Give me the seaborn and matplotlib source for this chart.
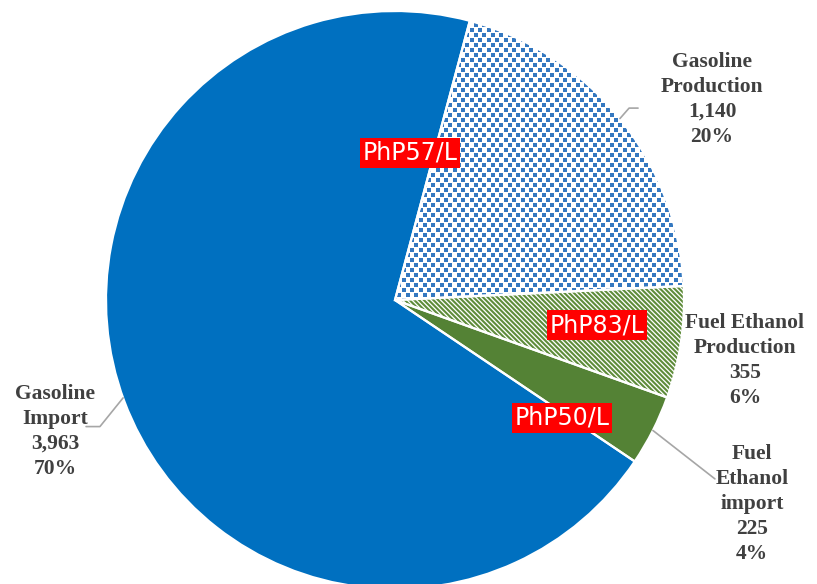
import matplotlib
matplotlib.use("Agg")
import matplotlib.pyplot as plt
import seaborn as sns
import numpy as np

# data (thousand litres)
sources = ["Gasoline\nProduction", "Fuel Ethanol\nProduction",
           "Fuel\nEthanol\nimport", "Gasoline\nImport"]
volumes = [1140, 355, 225, 3963]
prices = ["PhP57/L", "PhP83/L", "PhP50/L"]

sns.set_theme(style="white")
plt.rcParams["hatch.linewidth"] = 1.5
plt.rcParams["font.family"] = ["Liberation Serif", "DejaVu Serif"]

blue = "#0070C0"
dot_blue = "#3478C0"
green = "#548235"
label_col = "#404040"
leader_col = "#A6A6A6"

fig = plt.figure(figsize=(8.17, 5.84), dpi=100)
ax = fig.add_axes([0, 0, 1, 1])

face = ["white", "white", green, blue]
edge = ["white", "#5E8C3A", green, blue]
hatches = [None, "\\" * 7, None, None]

wedges, _ = ax.pie(volumes, startangle=75, counterclock=False, radius=1.0,
                   colors=face)
for w, ec, h in zip(wedges, edge, hatches):
    w.set_edgecolor(ec)
    w.set_linewidth(0)
    if h:
        w.set_hatch(h)

# dotted fill for the gasoline production slice (small staggered squares)
px = 1 / 289
gx, gy = np.meshgrid(np.arange(0, 1.05, 8.5 * px), np.arange(0, 1.05, 5 * px))
gx = gx + (np.arange(gx.shape[0])[:, None] % 2) * 4.25 * px
dots = ax.scatter(gx.ravel(), gy.ravel(), s=5.5, marker="s", color=dot_blue,
                  linewidths=0, zorder=1.5)
dots.set_clip_path(wedges[0])

# white separators between slices
ax.pie(volumes, startangle=75, counterclock=False, radius=1.0,
       colors=["none"] * 4,
       wedgeprops=dict(edgecolor="white", linewidth=1.6, zorder=2))

total = sum(volumes)
texts = [f"{s}\n{v:,}\n{round(100 * v / total):.0f}%" for s, v in zip(sources, volumes)]

def mid(w):
    return np.deg2rad((w.theta1 + w.theta2) / 2)

label_pos = [(1.097, 0.695), (1.211, -0.21), (1.235, -0.705), (-1.176, -0.455)]
for t, (x, y) in zip(texts, label_pos):
    ax.text(x, y, t, ha="center", va="center", fontsize=15.5, fontweight="bold",
            color=label_col, linespacing=1.33)

# leader lines
a = mid(wedges[0])
p0 = (np.cos(a), np.sin(a))
ax.plot([p0[0], 0.810, 0.841], [p0[1], 0.664, 0.664], color=leader_col, lw=1.2)
a = mid(wedges[2])
p0 = (np.cos(a), np.sin(a))
ax.plot([p0[0], 1.107], [p0[1], -0.619], color=leader_col, lw=1.2)
a = np.deg2rad(199.8)
p0 = (np.cos(a), np.sin(a))
ax.plot([p0[0], -1.021, -1.069], [p0[1], -0.438, -0.438], color=leader_col, lw=1.2)

# price tags
tag_pos = [(0.052, 0.509), (0.699, -0.087), (0.578, -0.408)]
for p, (x, y) in zip(prices, tag_pos):
    ax.text(x, y, p, ha="center", va="center", fontsize=17, color="white",
            family="DejaVu Sans", zorder=5,
            bbox=dict(boxstyle="square,pad=0.12", facecolor="#FF0000", edgecolor="none"))

ax.set_xlim(-395 / 289, 422 / 289)
ax.set_ylim(-284 / 289, 300 / 289)
ax.set_aspect("equal", adjustable="box")
ax.axis("off")

fig.savefig("out.png", dpi=100)
